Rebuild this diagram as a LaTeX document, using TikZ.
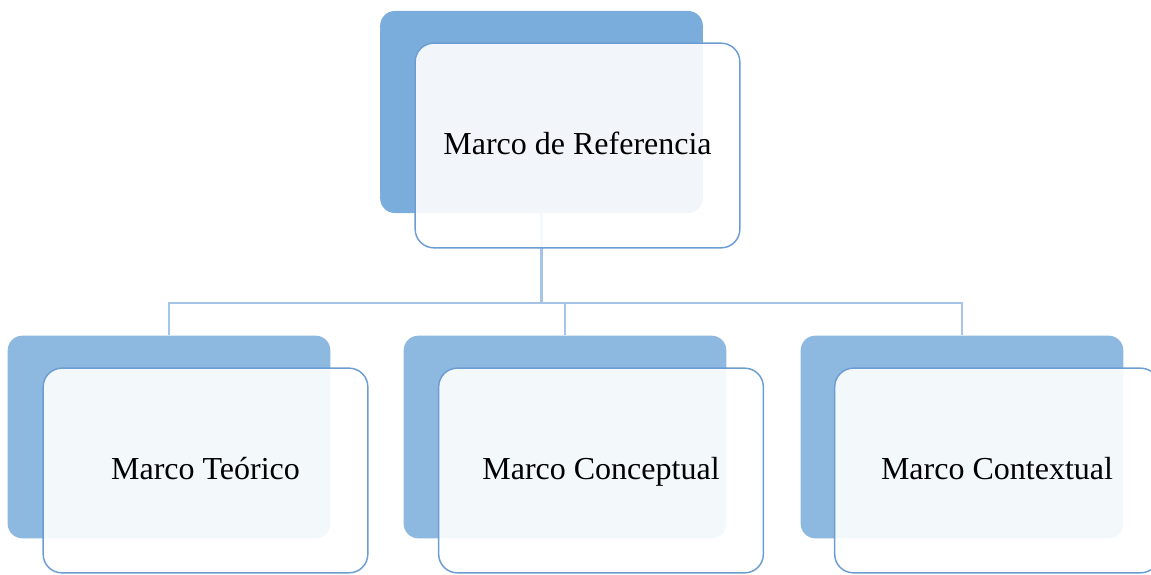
\documentclass[tikz,border=0pt]{standalone}
\usepackage{fontspec}
\setmainfont{Liberation Serif}
\usetikzlibrary{backgrounds}
\definecolor{backtop}{HTML}{7BADDC}
\definecolor{backbot}{HTML}{8DB8E0}
\definecolor{frontline}{HTML}{6C9DD2}
\definecolor{connline}{HTML}{A6C4E7}
\tikzset{
  backbox/.style={draw=none, fill=#1, rounded corners=11pt, minimum width=242pt, minimum height=152pt, inner sep=0pt},
  frontbox/.style={draw=frontline, line width=1.1pt, fill=white, fill opacity=0.9, text opacity=1, rounded corners=14pt, minimum width=243.5pt, minimum height=153.5pt, inner sep=0pt, text height=15.5pt, text depth=1.3pt, font=\fontsize{24}{28}\selectfont},
  conn/.style={draw=connline, line width=1.6pt}
}
\begin{document}
\begin{tikzpicture}[x=0.75pt, y=-0.75pt]
\useasboundingbox (0,0) rectangle (1151,574);
% back boxes
\node[backbox=backtop, minimum height=151.5pt] (tb) at (541.5,112) {};
\node[backbox=backbot] (b1) at (169,437) {};
\node[backbox=backbot] (b2) at (565,437) {};
\node[backbox=backbot] (b3) at (962,437) {};
% front boxes
\node[frontbox] (tf) at (577.5,145.5) {Marco de Referencia};
\node[frontbox] (f1) at (205.5,470.5) {Marco Teórico};
\node[frontbox] (f2) at (601,470.5) {Marco Conceptual};
\node[frontbox] (f3) at (997,470.5) {Marco Contextual};
% connectors
\begin{scope}[on background layer]
\coordinate (j) at (541.5,303);
\draw[conn] (tb.south) -- (j);
\draw[conn] (j) -| (b1.north);
\draw[conn] (j) -| (b2.north);
\draw[conn] (j) -| (b3.north);
\end{scope}
\end{tikzpicture}
\end{document}
